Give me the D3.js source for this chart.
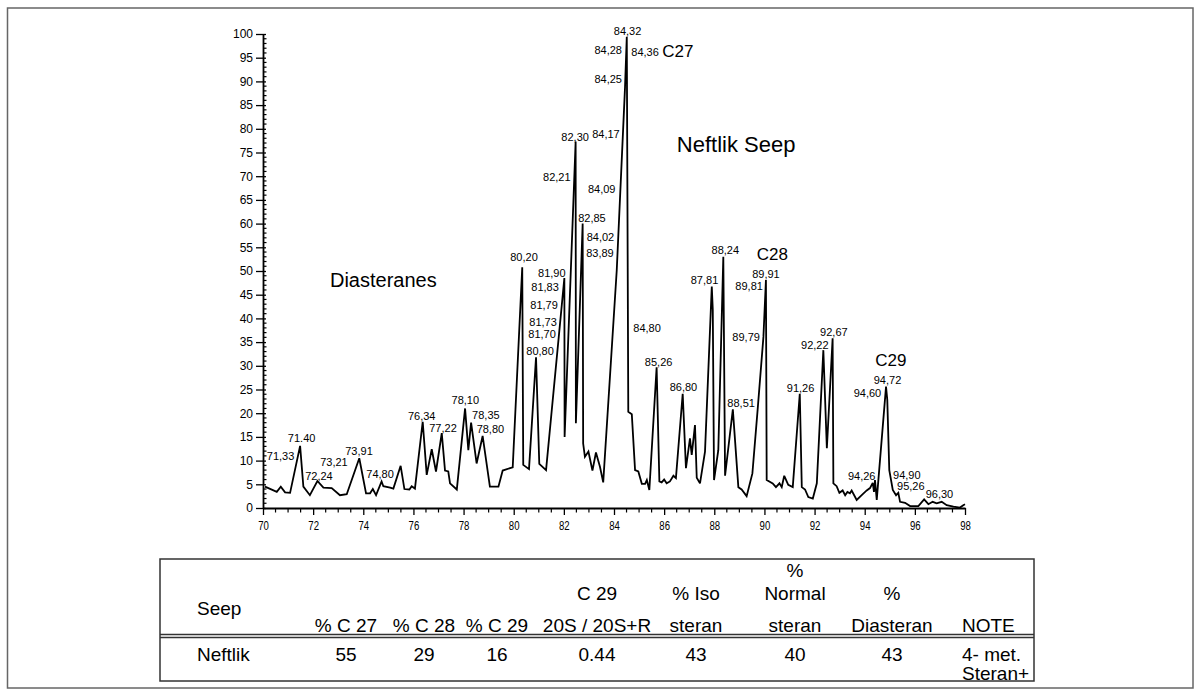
<!DOCTYPE html>
<html><head><meta charset="utf-8">
<script src="https://cdn.jsdelivr.net/npm/d3@7"></script>
<style>body{margin:0;background:#fff}svg{display:block}</style>
</head><body><svg id="c" width="1201" height="695"></svg>
<script>
// ---- data ----
const retentionTime = [70.08,70.55,70.71,70.88,71.08,71.48,71.61,71.87,72.17,72.41,
72.74,73.07,73.34,73.84,74.11,74.27,74.38,74.51,74.73,74.8,
75.07,75.2,75.49,75.64,75.84,75.93,76.06,76.37,76.53,76.73,
76.9,77.13,77.26,77.39,77.46,77.73,78.06,78.19,78.3,78.52,
78.76,79.05,79.39,79.56,79.96,80.34,80.38,80.61,80.89,81.02,
81.29,82.02,82.03,82.47,82.48,82.75,82.77,82.84,82.98,83.14,
83.28,83.44,83.57,84.11,84.44,84.51,84.57,84.71,84.84,84.97,
85.11,85.24,85.31,85.41,85.7,85.81,85.9,86.0,86.1,86.23,
86.37,86.47,86.74,86.87,87.03,87.1,87.23,87.3,87.43,87.63,
87.9,87.94,87.99,88.16,88.36,88.43,88.74,88.96,89.09,89.29,
89.52,89.73,89.96,90.06,90.09,90.33,90.46,90.6,90.69,90.79,
90.95,91.13,91.41,91.49,91.62,91.75,91.93,92.09,92.35,92.49,
92.72,92.75,92.88,92.99,93.12,93.22,93.31,93.41,93.48,93.68,
93.88,94.08,94.21,94.32,94.37,94.41,94.48,94.85,94.9,94.98,
95.12,95.25,95.34,95.41,95.61,95.81,96.14,96.37,96.54,96.71,
96.87,97.07,97.27,97.54,97.8,97.93,98.0];
const abundance = [4.5,3.4,4.5,3.3,3.2,13.1,4.5,2.7,5.7,4.3,
4.2,2.7,2.9,10.5,3.1,3.1,4.0,2.7,5.6,4.6,
4.3,4.1,8.9,4.0,3.9,4.6,4.1,18.2,7.0,12.4,
7.7,15.8,7.9,7.7,5.2,3.9,21.0,12.2,18.0,9.4,
15.2,4.5,4.5,7.9,8.6,50.8,9.1,8.2,31.8,9.3,
8.0,48.5,15.0,77.3,17.9,60.0,13.6,10.8,11.9,7.9,
11.7,8.7,5.4,50.2,88.8,99.4,20.3,19.8,8.0,7.7,
5.1,5.1,5.9,3.8,29.7,5.6,5.4,6.0,5.2,5.6,
6.8,6.3,24.1,8.4,14.7,11.2,17.5,6.4,5.2,11.9,
46.7,41.8,5.9,12.2,53.0,6.8,20.8,4.4,3.9,2.5,
7.3,20.8,36.1,48.1,5.9,5.2,4.4,5.2,4.4,6.8,
4.9,4.4,24.1,4.4,3.9,2.3,2.0,5.2,33.3,12.6,
35.8,5.2,4.6,3.2,3.7,2.7,3.4,3.1,3.7,1.7,
2.7,3.7,4.2,5.3,3.4,5.9,1.7,25.6,22.8,8.0,
3.8,2.7,3.2,1.3,1.1,0.4,0.4,1.8,0.8,1.3,
1.0,1.3,0.6,0.3,0.1,0.6,0.8];

const peakLabelText = ["71,33","71.40","72,24","73,21","73,91","74,80","76,34","77,22","78,10","78,35","78,80","80,20","80,80","81,70","81,73","81,79","81,83","81,90","82,21","82,30","82,85","83,89","84,02","84,09","84,17","84,25","84,28","84,32","84,36","84,80","85,26","86,80","87,81","88,24","88,51","89,79","89,81","89,91","91,26","92,22","92,67","94,26","94,60","94,72","94,90","95,26","96,30"];
const peakLabelX = [70.70,71.54,72.23,72.83,73.83,74.67,76.33,77.18,78.07,78.89,79.07,80.41,81.05,81.13,81.17,81.21,81.25,81.52,81.72,82.45,83.12,83.44,83.46,83.51,83.68,83.77,83.77,84.54,85.24,85.32,85.78,86.77,87.61,88.44,89.07,89.27,89.39,90.06,91.44,92.01,92.77,93.88,94.11,94.91,95.68,95.84,96.98];
const peakLabelY = [11.0,14.7,6.75,9.8,12.0,7.1,19.4,16.8,22.8,19.6,16.6,52.9,33.2,36.7,39.3,42.8,46.6,49.5,69.9,78.3,61.2,53.7,57.2,67.4,79.0,90.6,96.6,100.7,96.1,37.9,30.9,25.6,48.2,54.4,22.2,36.1,46.8,49.4,25.3,34.4,37.2,6.75,24.2,27.0,7.0,4.6,3.0];

const groupLabelText = ["Diasteranes","Neftlik Seep","C27","C28","C29"];
const groupLabelX = [74.8,88.87,86.55,90.32,95.04];
const groupLabelY = [48.1,76.6,96.3,53.4,31.1];

const xTickValues = [70,72,74,76,78,80,82,84,86,88,90,92,94,96,98];
const yTickValues = [0,5,10,15,20,25,30,35,40,45,50,55,60,65,70,75,80,85,90,95,100];

const tableSeepHeader = "Seep";
const tableColumnHeaders = [["% C 27"],["% C 28"],["% C 29"],["C 29","20S / 20S+R"],["% Iso","steran"],["%","Normal","steran"],["%","Diasteran"]];
const tableNoteHeader = "NOTE";
const tableRowName = "Neftlik";
const tableRowValues = ["55","29","16","0.44","43","40","43"];
const tableRowNote = ["4- met.","Steran+"];

// ---- drawing ----
const svg = d3.select("#c");
const FONT = "'Liberation Sans', Arial, Helvetica, sans-serif";
svg.append("rect").attr("x",0).attr("y",0).attr("width",1201).attr("height",695).attr("fill","#fff");
svg.append("rect").attr("x",7.5).attr("y",8).attr("width",1185.5).attr("height",680)
  .attr("fill","none").attr("stroke","#666").attr("stroke-width",1.5);

const x = d3.scaleLinear().domain([70,98]).range([263,965]);
const y = d3.scaleLinear().domain([0,100]).range([508,34]);

// y axis
const yAxis = d3.axisLeft(y).tickValues(yTickValues).tickSize(7).tickSizeOuter(0).tickPadding(3);
const gy = svg.append("g").attr("transform","translate(263,0)").call(yAxis);
gy.select(".domain").attr("stroke","#000").attr("stroke-width",1.8);
gy.selectAll(".tick line").attr("stroke","#000").attr("stroke-width",1.3).attr("x2",-7).attr("x1",3);
gy.selectAll(".tick text").attr("font-family",FONT).attr("font-size",12).attr("fill","#000");
gy.selectAll(".minor").data(d3.range(0,101).filter(v=>v%5!==0)).enter().append("line")
  .attr("x1",0).attr("x2",3.5).attr("y1",d=>y(d)).attr("y2",d=>y(d)).attr("stroke","#000").attr("stroke-width",1.2);

// x axis
const xAxis = d3.axisBottom(x).tickValues(xTickValues).tickSize(7).tickSizeOuter(0).tickPadding(6).tickFormat(d3.format("d"));
const gx = svg.append("g").attr("transform","translate(0,508)").call(xAxis);
gx.select(".domain").attr("stroke","#000").attr("stroke-width",1.8);
gx.selectAll(".tick line").attr("stroke","#000").attr("stroke-width",1.3);
gx.selectAll(".tick text").attr("font-family",FONT).attr("font-size",13).attr("fill","#000")
  .attr("transform","scale(0.74,1)");
gx.selectAll(".minor").data(d3.range(70,98.01,0.5).filter(v=>v%2!==0)).enter().append("line")
  .attr("x1",d=>x(d)).attr("x2",d=>x(d)).attr("y1",0).attr("y2",4.5).attr("stroke","#000").attr("stroke-width",1.2);

// trace
const pts = retentionTime.map((t,i)=>[t,abundance[i]]);
svg.append("path").datum(pts)
  .attr("d", d3.line().x(d=>x(d[0])).y(d=>y(d[1])))
  .attr("fill","none").attr("stroke","#000").attr("stroke-width",1.8).attr("stroke-linejoin","miter").attr("stroke-miterlimit",3);

// peak labels
svg.append("g").selectAll("text").data(peakLabelText).enter().append("text")
  .attr("x",(d,i)=>x(peakLabelX[i])).attr("y",(d,i)=>y(peakLabelY[i]))
  .attr("text-anchor","middle").attr("dominant-baseline","central")
  .attr("font-family",FONT).attr("font-size",11).attr("fill","#000").text(d=>d);

// group labels
const groupSizes = [20,22,17,17,17];
svg.append("g").selectAll("text").data(groupLabelText).enter().append("text")
  .attr("x",(d,i)=>x(groupLabelX[i])).attr("y",(d,i)=>y(groupLabelY[i]))
  .attr("text-anchor","middle").attr("dominant-baseline","central")
  .attr("font-family",FONT).attr("font-size",(d,i)=>groupSizes[i]).attr("fill","#000").text(d=>d);

// table
const tLeft=160, tRight=1034, tTop=559, tBottom=681, dblY=634.5;
const tg = svg.append("g");
tg.append("rect").attr("x",tLeft).attr("y",tTop).attr("width",tRight-tLeft).attr("height",tBottom-tTop)
  .attr("fill","none").attr("stroke","#333").attr("stroke-width",1.5);
tg.append("line").attr("x1",tLeft).attr("x2",tRight).attr("y1",dblY).attr("y2",dblY).attr("stroke","#333").attr("stroke-width",1.3);
tg.append("line").attr("x1",tLeft).attr("x2",tRight).attr("y1",dblY+3).attr("y2",dblY+3).attr("stroke","#333").attr("stroke-width",1.3);
const TF = 19;
const colX = [346,424,497,597,696,795,892];
const noteX = 962;
const headLines3 = [570,593,625];
function txt(s,xx,yy,anchor){
  tg.append("text").attr("x",xx).attr("y",yy).attr("text-anchor",anchor||"middle").attr("dominant-baseline","central")
    .attr("font-family",FONT).attr("font-size",TF).attr("fill","#000").text(s);
}
txt(tableSeepHeader,197,608,"start");
tableColumnHeaders.forEach((lines,ci)=>{
  const ys = headLines3.slice(3-lines.length);
  lines.forEach((s,li)=>txt(s,colX[ci],ys[li]));
});
txt(tableNoteHeader,noteX,625,"start");
txt(tableRowName,197,654,"start");
tableRowValues.forEach((v,ci)=>txt(v,colX[ci],654));
tableRowNote.forEach((s,li)=>txt(s,noteX,654+li*19,"start"));
</script>
</body></html>
